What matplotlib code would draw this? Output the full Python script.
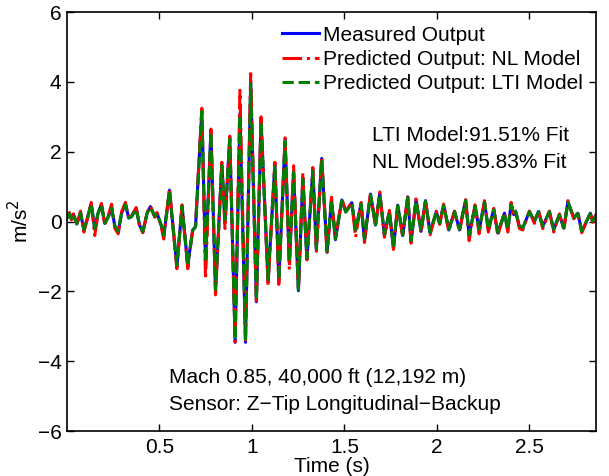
import numpy as np
import matplotlib
matplotlib.use("Agg")
import matplotlib.pyplot as plt

plt.rcParams['font.family'] = ['Liberation Sans', 'DejaVu Sans']

# time of each local extremum (s)
t = [0.000, 0.013, 0.024, 0.035, 0.053, 0.073, 0.091, 0.109, 0.131, 0.150,
     0.168, 0.186, 0.204, 0.222, 0.241, 0.259, 0.277, 0.295, 0.316, 0.334,
     0.349, 0.374, 0.392, 0.410, 0.433, 0.451, 0.475, 0.487, 0.511, 0.523,
     0.554, 0.594, 0.622, 0.653, 0.662, 0.680, 0.695, 0.729, 0.749, 0.778,
     0.803, 0.837, 0.854, 0.880, 0.909, 0.935, 0.965, 0.993, 1.024, 1.049,
     1.087, 1.124, 1.145, 1.179, 1.202, 1.225, 1.251, 1.275, 1.297, 1.329,
     1.348, 1.377, 1.406, 1.430, 1.451, 1.486, 1.507, 1.540, 1.560, 1.590,
     1.608, 1.641, 1.668, 1.691, 1.716, 1.743, 1.765, 1.788, 1.815, 1.842,
     1.860, 1.887, 1.914, 1.938, 1.963, 1.996, 2.015, 2.036, 2.064, 2.095,
     2.122, 2.155, 2.174, 2.206, 2.228, 2.257, 2.278, 2.307, 2.329, 2.365,
     2.383, 2.401, 2.415, 2.425, 2.446, 2.464, 2.500, 2.527, 2.549, 2.572,
     2.608, 2.631, 2.662, 2.686, 2.708, 2.740, 2.762, 2.783, 2.829, 2.842,
     2.860]

measured = [0.10, 0.24, 0.07, 0.21, -0.07, 0.26, -0.24, 0.07, 0.52, -0.22,
            0.24, 0.50, -0.05, 0.12, 0.40, -0.14, -0.30, 0.24, 0.50, 0.10,
            0.14, 0.38, -0.10, -0.30, 0.24, 0.43, 0.14, 0.24, -0.14, -0.43,
            0.90, -1.29, 0.45, -1.29, -0.90, -0.24, -0.14, 3.19, -1.19, 2.60,
            -2.00, 1.65, 0.00, 2.41, -3.46, 3.10, -3.46, 4.00, -2.30, 2.90,
            -1.70, 1.66, -1.72, 2.35, -1.20, 1.43, -1.98, 1.24, -1.09, 1.48,
            -0.80, 1.81, -0.88, 0.63, -0.52, 0.62, 0.28, 0.54, -0.26, 0.52,
            -0.52, 0.79, -0.10, 0.81, -0.38, 0.29, -0.76, 0.47, -0.40, 0.71,
            -0.57, 0.62, -0.28, 0.60, -0.33, 0.28, -0.05, 0.48, -0.24, 0.29,
            -0.24, 0.62, -0.40, 0.45, -0.24, 0.57, -0.24, 0.35, -0.33, 0.24,
            -0.24, 0.50, 0.20, 0.30, -0.14, -0.19, 0.29, 0.00, 0.29, -0.14,
            0.29, -0.24, 0.20, -0.19, 0.57, 0.10, 0.24, -0.29, 0.24, 0.00,
            0.19]

nl_model = [0.12, 0.26, 0.05, 0.22, -0.10, 0.30, -0.30, 0.05, 0.55, -0.40,
            0.22, 0.52, -0.10, 0.15, 0.50, -0.20, -0.35, 0.28, 0.55, 0.08,
            0.16, 0.40, -0.12, -0.32, 0.26, 0.45, 0.12, 0.26, -0.18, -0.50,
            0.95, -1.35, 0.48, -1.35, -0.95, -0.20, -0.10, 3.25, -1.66, 2.65,
            -2.10, 1.70, -0.20, 2.45, -3.45, 3.76, -3.40, 4.24, -2.35, 3.00,
            -1.85, 1.70, -1.80, 2.40, -1.38, 1.60, -2.00, 1.40, -1.10, 1.55,
            -0.85, 1.85, -0.95, 0.70, -0.45, 0.65, 0.30, 0.55, -0.45, 0.55,
            -0.60, 0.82, -0.15, 0.85, -0.45, 0.32, -0.80, 0.50, -0.45, 0.75,
            -0.62, 0.65, -0.32, 0.62, -0.38, 0.30, -0.08, 0.50, -0.28, 0.30,
            -0.28, 0.66, -0.55, 0.48, -0.35, 0.60, -0.30, 0.38, -0.40, 0.26,
            -0.30, 0.55, 0.15, 0.32, -0.20, -0.24, 0.30, -0.05, 0.32, -0.20,
            0.30, -0.30, 0.22, -0.24, 0.60, 0.08, 0.26, -0.32, 0.26, -0.02,
            0.20]

lti_model = [0.11, 0.23, 0.08, 0.20, -0.06, 0.25, -0.22, 0.08, 0.50, -0.20,
             0.24, 0.48, -0.04, 0.12, 0.38, -0.12, -0.28, 0.24, 0.48, 0.11,
             0.14, 0.36, -0.09, -0.28, 0.24, 0.41, 0.15, 0.23, -0.12, -0.40,
             0.88, -1.26, 0.44, -1.26, -0.88, -0.25, -0.16, 3.15, -1.15, 2.55,
             -1.95, 1.60, 0.05, 2.36, -3.40, 3.05, -3.40, 3.95, -2.25, 2.85,
             -1.66, 1.62, -1.68, 2.30, -1.16, 1.40, -1.94, 1.20, -1.05, 1.45,
             -0.78, 1.77, -0.85, 0.60, -0.50, 0.60, 0.27, 0.52, -0.24, 0.50,
             -0.50, 0.76, -0.09, 0.78, -0.36, 0.28, -0.73, 0.45, -0.38, 0.68,
             -0.55, 0.60, -0.26, 0.58, -0.31, 0.27, -0.04, 0.46, -0.22, 0.28,
             -0.22, 0.60, -0.38, 0.44, -0.22, 0.55, -0.22, 0.34, -0.31, 0.23,
             -0.22, 0.48, 0.21, 0.29, -0.12, -0.17, 0.28, 0.01, 0.28, -0.13,
             0.28, -0.22, 0.19, -0.18, 0.55, 0.11, 0.23, -0.27, 0.23, 0.01,
             0.18]

fig = plt.figure(figsize=(6.09, 4.76), dpi=100)
ax = fig.add_axes([0.110, 0.0945, 0.8687, 0.880])

ax.plot(t, measured, color='blue', lw=2.2, label='Measured Output')
ax.plot(t, nl_model, color='red', lw=2.2, ls='-.', label='Predicted Output: NL Model')
ax.plot(t, lti_model, color='green', lw=2.2, ls='--', label='Predicted Output: LTI Model')

ax.set_xlim(0, 2.86)
ax.set_ylim(-6, 6)
ax.set_xticks([0.5, 1, 1.5, 2, 2.5])
ax.set_xticklabels(['0.5', '1', '1.5', '2', '2.5'])
ax.set_yticks([-6, -4, -2, 0, 2, 4, 6])
ax.tick_params(direction='in', top=True, right=True, length=5, width=1,
               labelsize=15)
ax.tick_params(axis='x', pad=5)
ax.tick_params(axis='y', pad=4)
for s in ax.spines.values():
    s.set_linewidth(1.2)

ax.set_xlabel('Time (s)', fontsize=15, labelpad=0)
ax.set_ylabel('m/s$^2$', fontsize=15, labelpad=4)

ax.legend(loc='upper right', frameon=False, fontsize=15, handlelength=1.8,
          handletextpad=0.15, labelspacing=0.25, borderaxespad=0.45, borderpad=0.2)

ax.text(1.651, 2.48, 'LTI Model:91.51% Fit', fontsize=15, va='center')
ax.text(1.651, 1.68, 'NL Model:95.83% Fit', fontsize=15, va='center')
ax.text(0.554, -4.47, 'Mach 0.85, 40,000 ft (12,192 m)', fontsize=15, va='center')
ax.text(0.554, -5.24, 'Sensor: Z\u2212Tip Longitudinal\u2212Backup', fontsize=15, va='center')

fig.savefig('out.png', dpi=100)
